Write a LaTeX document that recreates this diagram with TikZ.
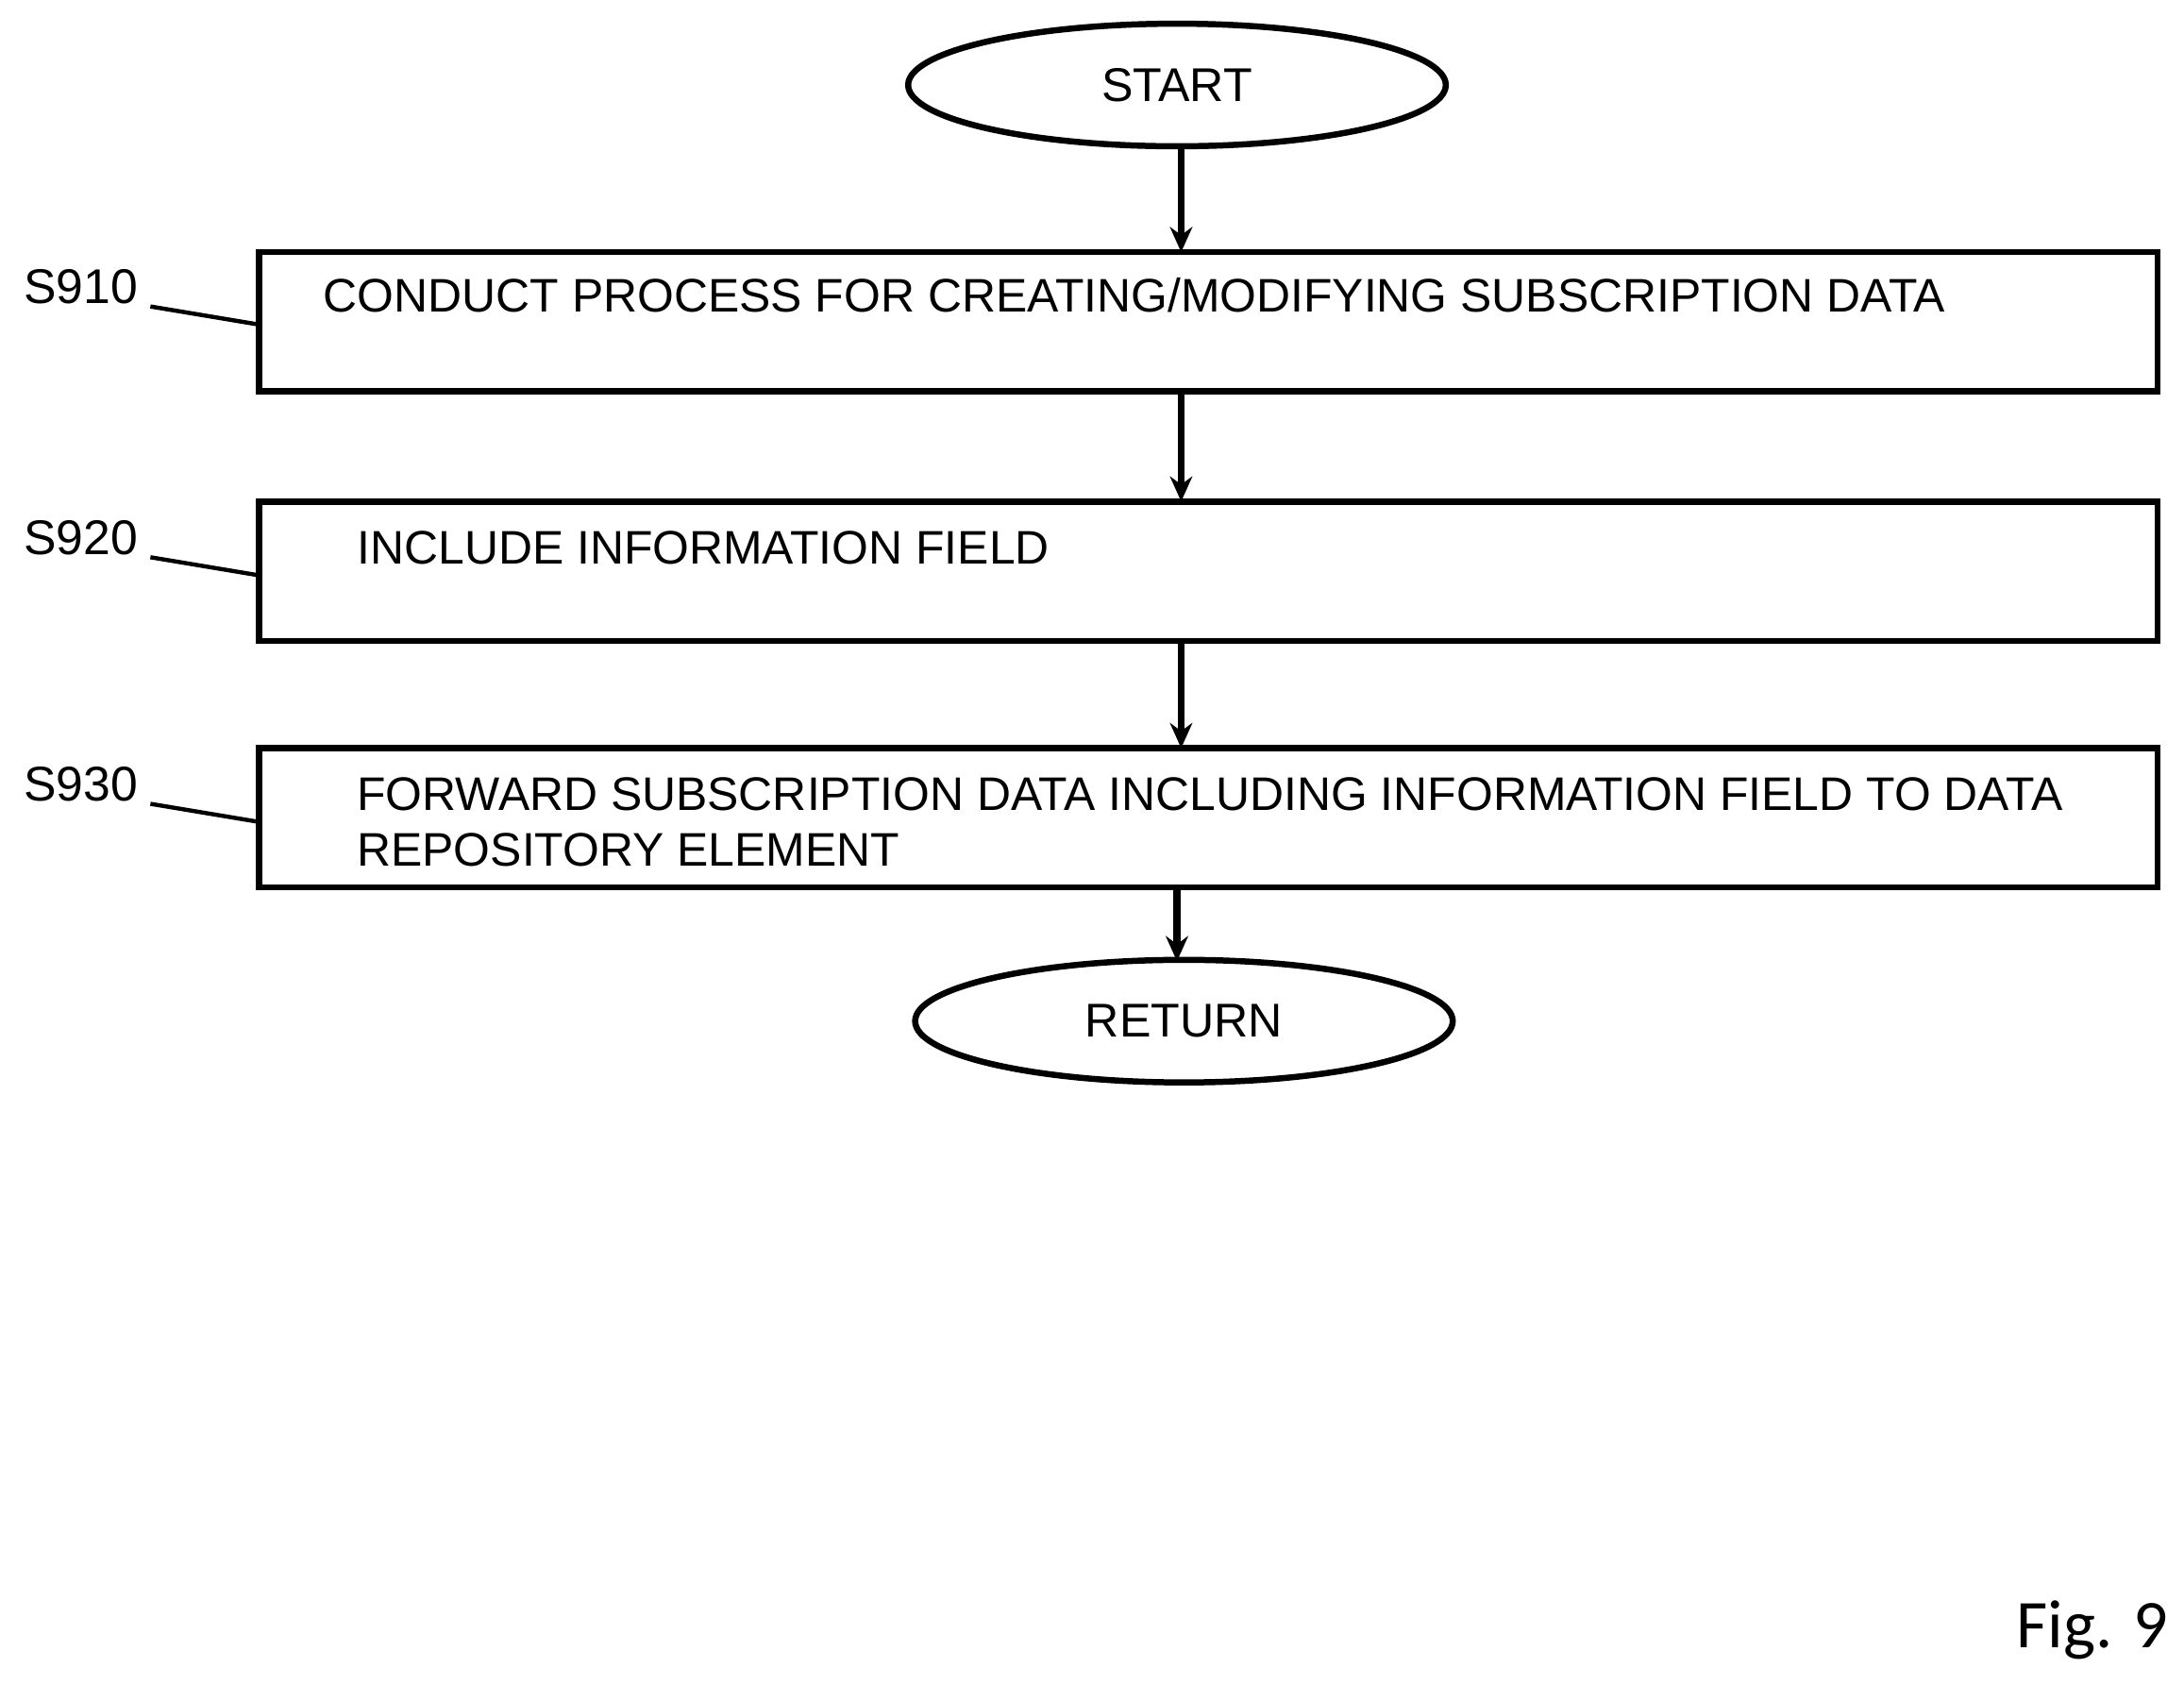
\documentclass[tikz,border=0pt]{standalone}
\usepackage{fontspec}
\setmainfont{Liberation Sans}
\newfontfamily\figfont{Carlito}
\usetikzlibrary{shapes.geometric,arrows.meta}
\begin{document}
\begin{tikzpicture}[x=0.5pt,y=-0.5pt,
  arr/.style={line width=2.4pt,-{Stealth[length=9pt,width=8pt]}},
  term/.style={ellipse,draw,line width=2.2pt,minimum width=193pt,minimum height=44pt,inner sep=0pt,font=\fontsize{17}{20}\selectfont},
  stepbox/.style={draw,line width=2.2pt,minimum width=681.5pt,minimum height=50pt,inner sep=0pt},
  txt/.style={anchor=west,font=\fontsize{16.9}{20}\selectfont,inner sep=0pt},
  lab/.style={font=\fontsize{17.5}{20}\selectfont,inner sep=0pt}]
\useasboundingbox (0,0) rectangle (1568,1209);
\node[term] (start) at (845,61) {START};
\node[stepbox] (b1) at (867.5,231) {};
\node[stepbox] (b2) at (867.5,410) {};
\node[stepbox] (b3) at (867.5,587) {};
\node[term] (ret) at (850,733) {RETURN};
\node[txt] (t1) at (232,212) {CONDUCT PROCESS FOR CREATING/MODIFYING SUBSCRIPTION DATA};
\node[txt] (t2) at (256,393) {INCLUDE INFORMATION FIELD};
\node[txt] (t3a) at (256,570) {FORWARD SUBSCRIPTION DATA INCLUDING INFORMATION FIELD TO DATA};
\node[txt] (t3b) at (256,610) {REPOSITORY ELEMENT};
\draw[arr] (848,105) -- (848,181);
\draw[arr] (848,281) -- (848,360);
\draw[arr] (848,460) -- (848,537);
\draw[arr] (845,637) -- (845,690);
\node[lab] (l1) at (58,206) {S910};
\node[lab] (l2) at (58,386) {S920};
\node[lab] (l3) at (58,563) {S930};
\coordinate (c1) at (186,233); \coordinate (c2) at (186,413); \coordinate (c3) at (186,590);
\draw[line width=1.5pt] (108,220) -- (c1);
\draw[line width=1.5pt] (108,400) -- (c2);
\draw[line width=1.5pt] (108,577) -- (c3);
\node[font=\figfont\fontsize{24.5}{28}\selectfont,inner sep=0pt] (fig) at (1502,1170) {Fig. 9};
\end{tikzpicture}
\end{document}
